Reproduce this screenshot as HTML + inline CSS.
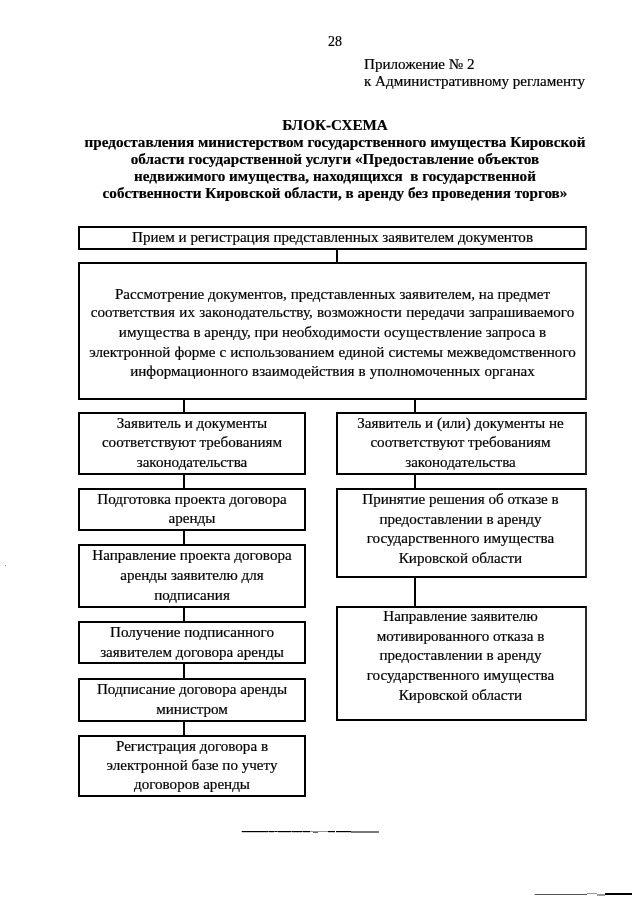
<!DOCTYPE html>
<html><head><meta charset="utf-8"><style>
html,body{margin:0;padding:0;background:#fff;}
body{-webkit-font-smoothing:antialiased;width:640px;height:905px;position:relative;overflow:hidden;font-family:"Liberation Serif",serif;color:#000;}
.t{position:absolute;will-change:transform;font-size:15.1px;line-height:19px;white-space:nowrap;-webkit-text-stroke:0.2px #000;}
.c{text-align:center;}
.b{font-weight:bold;font-size:15.15px;}
.bx{position:absolute;box-sizing:border-box;border:2px solid #000;}
.cn{position:absolute;width:2px;background:#000;}
.ln{position:absolute;}
</style></head><body>
<div class="t" style="left:328px;top:32px;font-size:14px;">28</div>
<div class="t" style="left:364px;top:55px;">Приложение № 2</div>
<div class="t" style="left:364px;top:72px;">к Административному регламенту</div>
<div class="t c b" style="left:35px;width:600px;top:115px;">БЛОК-СХЕМА</div>
<div class="t c b" style="left:35px;width:600px;top:132px;">предоставления министерством государственного имущества Кировской</div>
<div class="t c b" style="left:35px;width:600px;top:149px;">области государственной услуги «Предоставление объектов</div>
<div class="t c b" style="left:35px;width:600px;top:166px;">недвижимого имущества, находящихся&nbsp; в государственной</div>
<div class="t c b" style="left:35px;width:600px;top:183px;">собственности Кировской области, в аренду без проведения торгов»</div>
<div class="bx" style="left:78px;top:226px;width:509px;height:24px;border-right-color:#2a2a2a;"></div>
<div class="t c" style="left:78px;width:509px;top:228px;">Прием и регистрация представленных заявителем документов</div>
<div class="bx" style="left:78px;top:262px;width:509px;height:138px;border-right-color:#2a2a2a;"></div>
<div class="t c" style="left:78px;width:509px;top:285px;">Рассмотрение документов, представленных заявителем, на предмет</div>
<div class="t c" style="left:78px;width:509px;top:303px;"><span style='word-spacing:0.6px'>соответствия их законодательству, возможности передачи запрашиваемого</span></div>
<div class="t c" style="left:78px;width:509px;top:323px;">имущества в аренду, при необходимости осуществление запроса в</div>
<div class="t c" style="left:78px;width:509px;top:343px;"><span style='word-spacing:0.3px'>электронной форме с использованием единой системы межведомственного</span></div>
<div class="t c" style="left:78px;width:509px;top:362px;"><span style='word-spacing:0.3px'>информационного взаимодействия в уполномоченных органах</span></div>
<div class="bx" style="left:78px;top:412px;width:228px;height:63px;"></div>
<div class="t c" style="left:78px;width:228px;top:414px;">Заявитель и документы</div>
<div class="t c" style="left:78px;width:228px;top:433px;">соответствуют требованиям</div>
<div class="t c" style="left:78px;width:228px;top:453px;">законодательства</div>
<div class="bx" style="left:78px;top:488px;width:228px;height:43px;"></div>
<div class="t c" style="left:78px;width:228px;top:490px;">Подготовка проекта договора</div>
<div class="t c" style="left:78px;width:228px;top:509px;">аренды</div>
<div class="bx" style="left:78px;top:544px;width:228px;height:64px;"></div>
<div class="t c" style="left:78px;width:228px;top:546px;">Направление проекта договора</div>
<div class="t c" style="left:78px;width:228px;top:566px;">аренды заявителю для</div>
<div class="t c" style="left:78px;width:228px;top:586px;">подписания</div>
<div class="bx" style="left:78px;top:621px;width:228px;height:43px;"></div>
<div class="t c" style="left:78px;width:228px;top:623px;">Получение подписанного</div>
<div class="t c" style="left:78px;width:228px;top:643px;">заявителем договора аренды</div>
<div class="bx" style="left:78px;top:678px;width:228px;height:44px;"></div>
<div class="t c" style="left:78px;width:228px;top:680px;">Подписание договора аренды</div>
<div class="t c" style="left:78px;width:228px;top:700px;">министром</div>
<div class="bx" style="left:78px;top:735px;width:228px;height:62px;"></div>
<div class="t c" style="left:78px;width:228px;top:737px;">Регистрация договора в</div>
<div class="t c" style="left:78px;width:228px;top:756px;">электронной базе по учету</div>
<div class="t c" style="left:78px;width:228px;top:775px;">договоров аренды</div>
<div class="bx" style="left:336px;top:412px;width:251px;height:63px;border-right-color:#2a2a2a;"></div>
<div class="t c" style="left:335.4px;width:251px;top:414px;">Заявитель и (или) документы не</div>
<div class="t c" style="left:335.4px;width:251px;top:433px;">соответствуют требованиям</div>
<div class="t c" style="left:335.4px;width:251px;top:453px;">законодательства</div>
<div class="bx" style="left:336px;top:488px;width:251px;height:90px;border-right-color:#2a2a2a;"></div>
<div class="t c" style="left:335.4px;width:251px;top:490px;">Принятие решения об отказе в</div>
<div class="t c" style="left:335.4px;width:251px;top:510px;">предоставлении в аренду</div>
<div class="t c" style="left:335.4px;width:251px;top:529px;">государственного имущества</div>
<div class="t c" style="left:335.4px;width:251px;top:549px;">Кировской области</div>
<div class="bx" style="left:336px;top:606px;width:251px;height:115px;border-right-color:#2a2a2a;"></div>
<div class="t c" style="left:335.4px;width:251px;top:607px;">Направление заявителю</div>
<div class="t c" style="left:335.4px;width:251px;top:627px;">мотивированного отказа в</div>
<div class="t c" style="left:335.4px;width:251px;top:646px;">предоставлении в аренду</div>
<div class="t c" style="left:335.4px;width:251px;top:666px;">государственного имущества</div>
<div class="t c" style="left:335.4px;width:251px;top:686px;">Кировской области</div>
<div class="cn" style="left:336px;top:250px;height:12px;"></div>
<div class="cn" style="left:183px;top:400px;height:12px;"></div>
<div class="cn" style="left:414px;top:400px;height:12px;"></div>
<div class="cn" style="left:183px;top:475px;height:13px;"></div>
<div class="cn" style="left:183px;top:531px;height:13px;"></div>
<div class="cn" style="left:183px;top:608px;height:13px;"></div>
<div class="cn" style="left:183px;top:664px;height:14px;"></div>
<div class="cn" style="left:183px;top:722px;height:13px;"></div>
<div class="cn" style="left:414px;top:475px;height:13px;"></div>
<div class="cn" style="left:414px;top:578px;height:28px;"></div>
<div class="ln" style="left:241px;top:831px;width:1px;height:1px;background:#bbb;"></div>
<div class="ln" style="left:242px;top:831px;width:86px;height:1px;background:#555;"></div>
<div class="ln" style="left:242px;top:831px;width:26px;height:1px;background:#000;"></div>
<div class="ln" style="left:242px;top:832px;width:26px;height:1px;background:#ccc;"></div>
<div class="ln" style="left:269px;top:831px;width:5px;height:1px;background:#000;"></div>
<div class="ln" style="left:269px;top:832px;width:5px;height:1px;background:#ccc;"></div>
<div class="ln" style="left:275px;top:831px;width:2px;height:1px;background:#000;"></div>
<div class="ln" style="left:278px;top:831px;width:13px;height:1px;background:#000;"></div>
<div class="ln" style="left:278px;top:832px;width:13px;height:1px;background:#ccc;"></div>
<div class="ln" style="left:292px;top:831px;width:10px;height:1px;background:#000;"></div>
<div class="ln" style="left:292px;top:832px;width:10px;height:1px;background:#ccc;"></div>
<div class="ln" style="left:303px;top:831px;width:7px;height:1px;background:#000;"></div>
<div class="ln" style="left:303px;top:832px;width:7px;height:1px;background:#ccc;"></div>
<div class="ln" style="left:310px;top:831px;width:18px;height:1px;background:#999;"></div>
<div class="ln" style="left:313px;top:832px;width:5px;height:1px;background:#666;"></div>
<div class="ln" style="left:328px;top:831px;width:7px;height:1px;background:#000;"></div>
<div class="ln" style="left:328px;top:832px;width:7px;height:1px;background:#ccc;"></div>
<div class="ln" style="left:336px;top:831px;width:15px;height:1px;background:#000;"></div>
<div class="ln" style="left:336px;top:832px;width:15px;height:1px;background:#ccc;"></div>
<div class="ln" style="left:351px;top:831px;width:28px;height:2px;background:#777;"></div>
<div class="ln" style="left:534px;top:894px;width:1px;height:1px;background:#bbb;"></div>
<div class="ln" style="left:535px;top:894px;width:52px;height:1px;background:#555;"></div>
<div class="ln" style="left:587px;top:893px;width:10px;height:1px;background:#999;"></div>
<div class="ln" style="left:597px;top:894px;width:8px;height:2px;background:#999;"></div>
<div class="ln" style="left:605px;top:893px;width:27px;height:2px;background:#000;"></div>
<div class="ln" style="left:5px;top:565px;width:1px;height:1px;background:#999;"></div>
</body></html>
